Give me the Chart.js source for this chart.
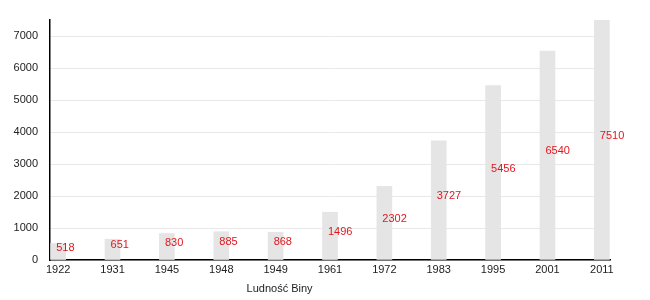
<!DOCTYPE html>
<html>
<head>
<meta charset="utf-8">
<script src="https://cdn.jsdelivr.net/npm/chart.js@4"></script>
<style>
  html, body { margin: 0; padding: 0; background: #fff; }
  #wrap { width: 650px; height: 300px; }
</style>
</head>
<body>
<div id="wrap"><canvas id="chart" width="650" height="300"></canvas></div>
<script>
const years = ["1922", "1931", "1945", "1948", "1949", "1961", "1972", "1983", "1995", "2001", "2011"];
const population = [518, 651, 830, 885, 868, 1496, 2302, 3727, 5456, 6540, 7510];
const yTicks = [0, 1000, 2000, 3000, 4000, 5000, 6000, 7000];
const chartTitle = "Ludność Biny";

const font = { family: "'Liberation Sans', Arial, sans-serif", size: 11 };

// red numbers in the middle of each bar
const valueLabels = {
  id: "valueLabels",
  afterDatasetsDraw(chart) {
    const ctx = chart.ctx;
    const meta = chart.getDatasetMeta(0);
    ctx.save();
    ctx.font = "11px 'Liberation Sans', Arial, sans-serif";
    ctx.fillStyle = "#e3161e";
    ctx.textAlign = "left";
    ctx.textBaseline = "middle";
    meta.data.forEach((bar, i) => {
      const mid = (bar.y + bar.base) / 2 - 4;
      ctx.fillText(String(population[i]), bar.x - 2, mid);
    });
    ctx.restore();
  }
};

// caption under the x axis
const caption = {
  id: "caption",
  afterDraw(chart) {
    const ctx = chart.ctx;
    const area = chart.chartArea;
    ctx.save();
    ctx.font = "11px 'Liberation Sans', Arial, sans-serif";
    ctx.fillStyle = "#222";
    ctx.textAlign = "center";
    ctx.textBaseline = "middle";
    ctx.fillText(chartTitle, area.left + area.width * 0.41, area.bottom + 29);
    ctx.restore();
  }
};

new Chart(document.getElementById("chart"), {
  type: "bar",
  data: {
    datasets: [
      {
        data: population.map((v, i) => ({ x: i, y: v })),
        backgroundColor: "#e5e5e5",
        barThickness: 15,
      },
    ],
  },
  options: {
    responsive: false,
    animation: false,
    layout: { padding: { top: 20, right: 40, left: 0, bottom: 0 } },
    plugins: {
      legend: { display: false },
      tooltip: { enabled: false },
    },
    scales: {
      x: {
        type: "linear",
        min: -0.15,
        max: 10.15,
        offset: false,
        bounds: "data",
        grid: { display: false, drawTicks: false, offset: false },
        border: { color: "#000", width: 1.5 },
        ticks: {
          autoSkip: false,
          maxRotation: 0,
          padding: 3,
          color: "#222",
          font: font,
          callback: (v) => years[v],
        },
        afterBuildTicks: (scale) => {
          scale.ticks = years.map((_, i) => ({ value: i }));
        },
        afterFit: (scale) => { scale.height = 40; },
      },
      y: {
        min: 0,
        max: 7510,
        grid: { color: "#e8e8e8", drawTicks: false },
        border: { color: "#000", width: 1.5 },
        ticks: {
          padding: 12,
          color: "#222",
          font: font,
          callback: (v) => String(v),
        },
        afterBuildTicks: (scale) => {
          scale.ticks = yTicks.map((v) => ({ value: v }));
        },
        afterFit: (scale) => { scale.width = 50; },
      },
    },
  },
  plugins: [valueLabels, caption],
});
</script>
</body>
</html>
